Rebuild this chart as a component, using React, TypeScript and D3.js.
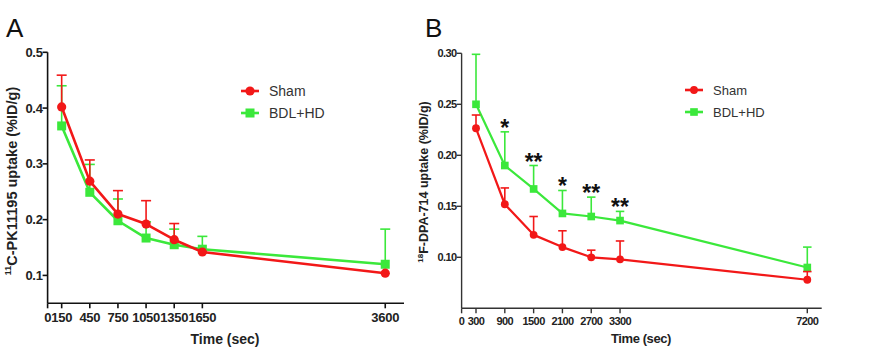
import React from "react";
import * as d3 from "d3";

// Panel A data
const timesA = [150, 450, 750, 1050, 1350, 1650, 3600];
const shamA = [0.402, 0.269, 0.21, 0.192, 0.164, 0.142, 0.104];
const shamAErr = [0.459, 0.307, 0.252, 0.234, 0.193, 0.142, 0.104];
const bdlA = [0.368, 0.249, 0.198, 0.167, 0.155, 0.147, 0.12];
const bdlAErr = [0.44, 0.299, 0.237, 0.196, 0.183, 0.17, 0.183];
const tickXA = [0, 150, 450, 750, 1050, 1350, 1650, 3600];
const tickYA = [0.1, 0.2, 0.3, 0.4, 0.5];

// Panel B data
const timesB = [300, 900, 1500, 2100, 2700, 3300, 7200];
const shamB = [0.2265, 0.152, 0.122, 0.11, 0.1, 0.098, 0.078];
const shamBErr = [0.2395, 0.168, 0.14, 0.126, 0.107, 0.116, 0.086];
const bdlB = [0.25, 0.19, 0.167, 0.143, 0.14, 0.136, 0.09];
const bdlBErr = [0.299, 0.223, 0.19, 0.1655, 0.159, 0.145, 0.11];
const tickXB = [0, 300, 900, 1500, 2100, 2700, 3300, 7200];
const tickYB = [0.1, 0.15, 0.2, 0.25, 0.3];
const sigB = ["", "*", "**", "*", "**", "**", ""];

const RED = "#f21818";
const GREEN = "#3be83b";
const FONT = "'Liberation Sans', Arial, sans-serif";

type PanelProps = {
  x: d3.ScaleLinear<number, number>;
  y: d3.ScaleLinear<number, number>;
  times: number[];
  sham: number[];
  shamErr: number[];
  bdl: number[];
  bdlErr: number[];
  tickX: number[];
  tickY: number[];
  yFmt: (v: number) => string;
  tickFont: number;
  tickSpacing: number;
  axisColor: string;
  axisW: number;
  markerScale: number;
};

function Series({ x, y, times, vals, errs, color, square, ms }: any) {
  const line = d3
    .line<number>()
    .x((_, i) => x(times[i]))
    .y((d) => y(d));
  const capW = 5 * ms;
  return (
    <g>
      {vals.map((v: number, i: number) => (
        <g key={i}>
          <line x1={x(times[i])} x2={x(times[i])} y1={y(v)} y2={y(errs[i])} stroke={color} strokeWidth={1.6} />
          {errs[i] > v && (
            <line x1={x(times[i]) - capW} x2={x(times[i]) + capW} y1={y(errs[i])} y2={y(errs[i])} stroke={color} strokeWidth={1.6} />
          )}
        </g>
      ))}
      <path d={line(vals) || ""} fill="none" stroke={color} strokeWidth={2.6 * ms} strokeLinejoin="round" />
      {vals.map((v: number, i: number) =>
        square ? (
          <rect key={i} x={x(times[i]) - 4.5 * ms} y={y(v) - 4.5 * ms} width={9 * ms} height={9 * ms} fill={color} />
        ) : (
          <circle key={i} cx={x(times[i])} cy={y(v)} r={4.6 * ms} fill={color} />
        )
      )}
    </g>
  );
}

function Panel(p: PanelProps) {
  const [x0, x1] = p.x.range();
  const [yb, yt] = p.y.range();
  return (
    <g>
      <line x1={x0} x2={x0} y1={yt} y2={yb} stroke={p.axisColor} strokeWidth={p.axisW} />
      <line x1={x0} x2={x1} y1={yb} y2={yb} stroke={p.axisColor} strokeWidth={p.axisW} />
      {p.tickY.map((t) => (
        <g key={t}>
          <line x1={x0 - 5} x2={x0} y1={p.y(t)} y2={p.y(t)} stroke={p.axisColor} strokeWidth={p.axisW} />
          <text x={x0 - 5} y={p.y(t)} dy="0.35em" textAnchor="end" fontFamily={FONT} fontWeight="bold" fontSize={p.tickFont} letterSpacing={p.tickSpacing} fill="#222">
            {p.yFmt(t)}
          </text>
        </g>
      ))}
      {p.tickX.map((t) => (
        <g key={t}>
          <line x1={p.x(t)} x2={p.x(t)} y1={yb} y2={yb + 5} stroke={p.axisColor} strokeWidth={p.axisW} />
          <text x={p.x(t)} y={yb + 5 + p.tickFont * 1.05} textAnchor="middle" fontFamily={FONT} fontWeight="bold" fontSize={p.tickFont} letterSpacing={p.tickSpacing} fill="#222">
            {t}
          </text>
        </g>
      ))}
      <Series x={p.x} y={p.y} times={p.times} vals={p.bdl} errs={p.bdlErr} color={GREEN} square ms={p.markerScale} />
      <Series x={p.x} y={p.y} times={p.times} vals={p.sham} errs={p.shamErr} color={RED} ms={p.markerScale} />
    </g>
  );
}

function Legend({ x, y, ms, fs }: { x: number; y: number; ms: number; fs: number }) {
  return (
    <g fontFamily={FONT} fontSize={fs} fill="#333">
      <line x1={x} x2={x + 18} y1={y} y2={y} stroke={RED} strokeWidth={2.6} />
      <circle cx={x + 9} cy={y} r={4.6 * ms} fill={RED} />
      <text x={x + 28} y={y} dy="0.35em">Sham</text>
      <line x1={x} x2={x + 18} y1={y + 22} y2={y + 22} stroke={GREEN} strokeWidth={2.6} />
      <rect x={x + 9 - 4.5 * ms} y={y + 22 - 4.5 * ms} width={9 * ms} height={9 * ms} fill={GREEN} />
      <text x={x + 28} y={y + 22} dy="0.35em">BDL+HD</text>
    </g>
  );
}

export default function App() {
  const xA = d3.scaleLinear().domain([0, 3800]).range([47.6, 404]);
  const yA = d3.scaleLinear().domain([0.05, 0.5]).range([303.3, 52.3]);
  const xB = d3.scaleLinear().domain([0, 7500]).range([461.6, 821.7]);
  const yB = d3.scaleLinear().domain([0.05, 0.3]).range([308.3, 53.3]);

  return (
    <svg width={871} height={350} style={{ position: "absolute", left: 0, top: 0, background: "#fff" }}>
      <rect width={871} height={350} fill="#fff" />
      <text x={6} y={37} fontFamily={FONT} fontSize={26} fill="#111">A</text>
      <text x={425} y={37} fontFamily={FONT} fontSize={26} fill="#111">B</text>

      <Panel x={xA} y={yA} times={timesA} sham={shamA} shamErr={shamAErr} bdl={bdlA} bdlErr={bdlAErr}
        tickX={tickXA} tickY={tickYA} yFmt={d3.format(".1f")} tickFont={13} tickSpacing={-0.3}
        axisColor="#111" axisW={1.6} markerScale={1} />
      <Panel x={xB} y={yB} times={timesB} sham={shamB} shamErr={shamBErr} bdl={bdlB} bdlErr={bdlBErr}
        tickX={tickXB} tickY={tickYB} yFmt={d3.format(".2f")} tickFont={11} tickSpacing={-0.6}
        axisColor="#333" axisW={1.4} markerScale={0.85} />

      {sigB.map((s, i) =>
        s ? (
          <text key={i} x={xB(timesB[i])} y={yB(bdlBErr[i]) - 9 + 13} textAnchor="middle" fontFamily={FONT} fontWeight="bold" fontSize={23} fill="#111">
            {s}
          </text>
        ) : null
      )}

      <Legend x={241} y={91} ms={1} fs={14} />
      <Legend x={685} y={90} ms={0.85} fs={13} />

      <text transform="translate(17,181) rotate(-90)" textAnchor="middle" fontFamily={FONT} fontWeight="bold" fontSize={14.5} fill="#222">
        <tspan fontSize={9} dy={-6}>11</tspan>
        <tspan dy={6}>C-PK11195 uptake (%ID/g)</tspan>
      </text>
      <text transform="translate(428,182) rotate(-90)" textAnchor="middle" fontFamily={FONT} fontWeight="bold" fontSize={12.5} fill="#222">
        <tspan fontSize={8} dy={-5}>18</tspan>
        <tspan dy={5}>F-DPA-714 uptake (%ID/g)</tspan>
      </text>

      <text x={225} y={344} textAnchor="middle" fontFamily={FONT} fontWeight="bold" fontSize={14} fill="#222">Time (sec)</text>
      <text x={641} y={343} textAnchor="middle" fontFamily={FONT} fontWeight="bold" fontSize={13} letterSpacing={-0.4} fill="#222">Time (sec)</text>
    </svg>
  );
}
